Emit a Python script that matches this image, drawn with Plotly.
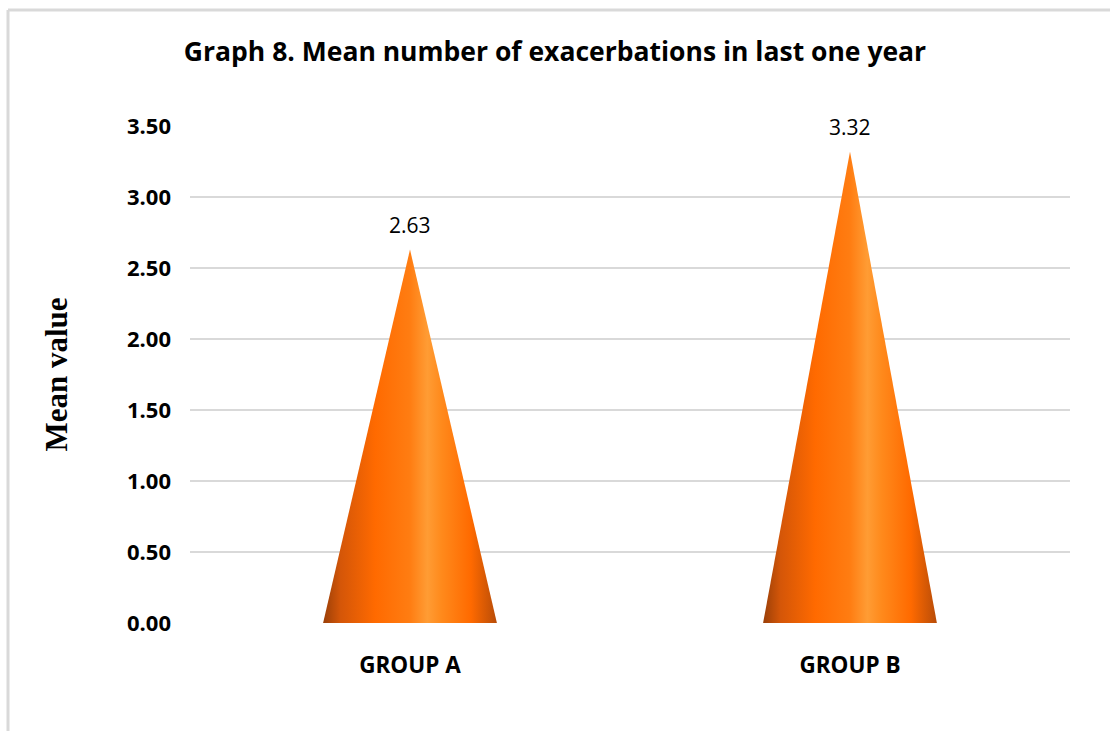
import plotly.graph_objects as go

# Chart data
groups = ["GROUP A", "GROUP B"]
mean_values = [2.63, 3.32]
y_ticks = [0.0, 0.5, 1.0, 1.5, 2.0, 2.5, 3.0, 3.5]
y_tick_labels = [f"{v:.2f}" for v in y_ticks]

W, H = 1110, 731
L, R, T, B = 190, 40, 126, 108
CONE_WIDTH = 0.395  # base width of a cone, in category units

# Shading across each cone: dark rim, bright body, light highlight, dark rim
cone_scale = [
    [0.00, "#9a3f08"],
    [0.10, "#d45608"],
    [0.30, "#ff6a00"],
    [0.50, "#ff7d12"],
    [0.60, "#ff9c34"],
    [0.68, "#ff8a1c"],
    [0.85, "#ff6a00"],
    [1.00, "#b84c08"],
]

fig = go.Figure()

for i, (g, v) in enumerate(zip(groups, mean_values)):
    half = CONE_WIDTH / 2
    fig.add_trace(go.Scatter(
        x=[i - half, i, i + half, i - half],
        y=[0, v, 0, 0],
        mode="lines",
        line=dict(width=0, color="rgba(0,0,0,0)"),
        fill="toself",
        fillgradient=dict(type="horizontal", colorscale=cone_scale),
        hoverinfo="skip",
        showlegend=False,
    ))
    fig.add_annotation(
        x=i, y=v, text=f"{v:.2f}", showarrow=False,
        yanchor="bottom", yshift=9,
        font=dict(family="Open Sans", size=21, color="#000000"),
    )


def px_x(p):
    return (p - L) / (W - L - R)


def px_y(p):
    return (H - B - p) / (H - T - B)


# Outer frame of the chart (top and left edges)
frame = dict(color="#d9d9d9", width=3)
fig.add_shape(type="line", xref="paper", yref="paper",
              x0=px_x(8), x1=px_x(W + 5), y0=px_y(10), y1=px_y(10), line=frame)
fig.add_shape(type="line", xref="paper", yref="paper",
              x0=px_x(8), x1=px_x(8), y0=px_y(10), y1=px_y(H + 5), line=frame)

fig.update_layout(
    width=W, height=H,
    margin=dict(l=L, r=R, t=T, b=B),
    paper_bgcolor="white",
    plot_bgcolor="white",
    title=dict(
        text="<b>Graph 8. Mean number of exacerbations in last one year</b>",
        x=0.5, xanchor="center", xref="container",
        y=1 - 52 / H, yanchor="middle", yref="container",
        font=dict(family="Open Sans", size=26.5, color="#000000"),
    ),
    xaxis=dict(
        range=[-0.5, 1.5],
        tickvals=list(range(len(groups))),
        ticktext=[f"<b>{g}</b>" for g in groups],
        tickfont=dict(family="Open Sans", size=22.5, color="#000000"),
        showgrid=False, zeroline=False, showline=False, ticks="",
        ticklabelstandoff=26,
    ),
    yaxis=dict(
        range=[0, 3.5],
        tickvals=y_ticks,
        ticktext=[f"<b>{t}</b>" for t in y_tick_labels],
        tickfont=dict(family="Open Sans", size=22, color="#000000"),
        showgrid=True, gridcolor="#d9d9d9", gridwidth=2,
        zeroline=False, showline=False, ticks="",
        ticklabelstandoff=18,
        title=dict(
            text="<b>Mean value</b>",
            font=dict(family="Liberation Serif", size=31, color="#000000"),
            standoff=50,
        ),
    ),
)

fig.write_html("out.html")
